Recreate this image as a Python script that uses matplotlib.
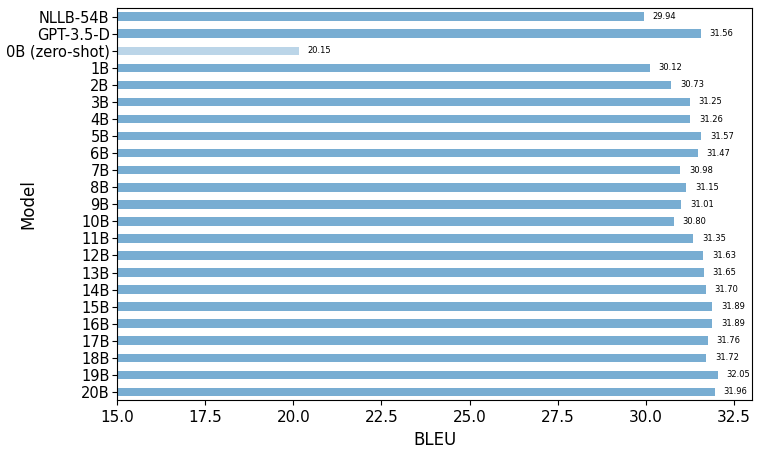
import matplotlib
matplotlib.use("Agg")
import matplotlib.pyplot as plt
import numpy as np

models = ["NLLB-54B", "GPT-3.5-D", "0B (zero-shot)"] + [f"{i}B" for i in range(1, 21)]
bleu = [29.94, 31.56, 20.15, 30.12, 30.73, 31.25, 31.26, 31.57, 31.47, 30.98,
        31.15, 31.01, 30.80, 31.35, 31.63, 31.65, 31.70, 31.89, 31.89, 31.76,
        31.72, 32.05, 31.96]

fig, ax = plt.subplots(figsize=(7.61, 4.54), dpi=100)
y = np.arange(len(models))
alphas = [0.3 if m.startswith("0B") else 0.6 for m in models]
for yi, v, a in zip(y, bleu, alphas):
    ax.barh(yi, v, height=0.5, color="#1f77b4", alpha=a)
    ax.text(v + 0.25, yi, f"{v:.2f}", va="center", ha="left", fontsize=6)

ax.set_yticks(y)
ax.set_yticklabels(models, fontsize=10.5)
ax.tick_params(axis="y", pad=2)
ax.set_ylim(len(models) - 0.5, -0.5)
ax.set_xlim(15, max(bleu) * 1.03)
ax.set_xticks(np.arange(15, 33, 2.5))
ax.tick_params(axis="x", labelsize=11)
ax.set_xlabel("BLEU", fontsize=12)
ax.set_ylabel("Model", fontsize=12)
ax.yaxis.set_label_coords(-0.125, 0.5)
fig.subplots_adjust(left=0.154, right=0.988, top=0.982, bottom=0.118)
fig.savefig("out.png", dpi=100)
